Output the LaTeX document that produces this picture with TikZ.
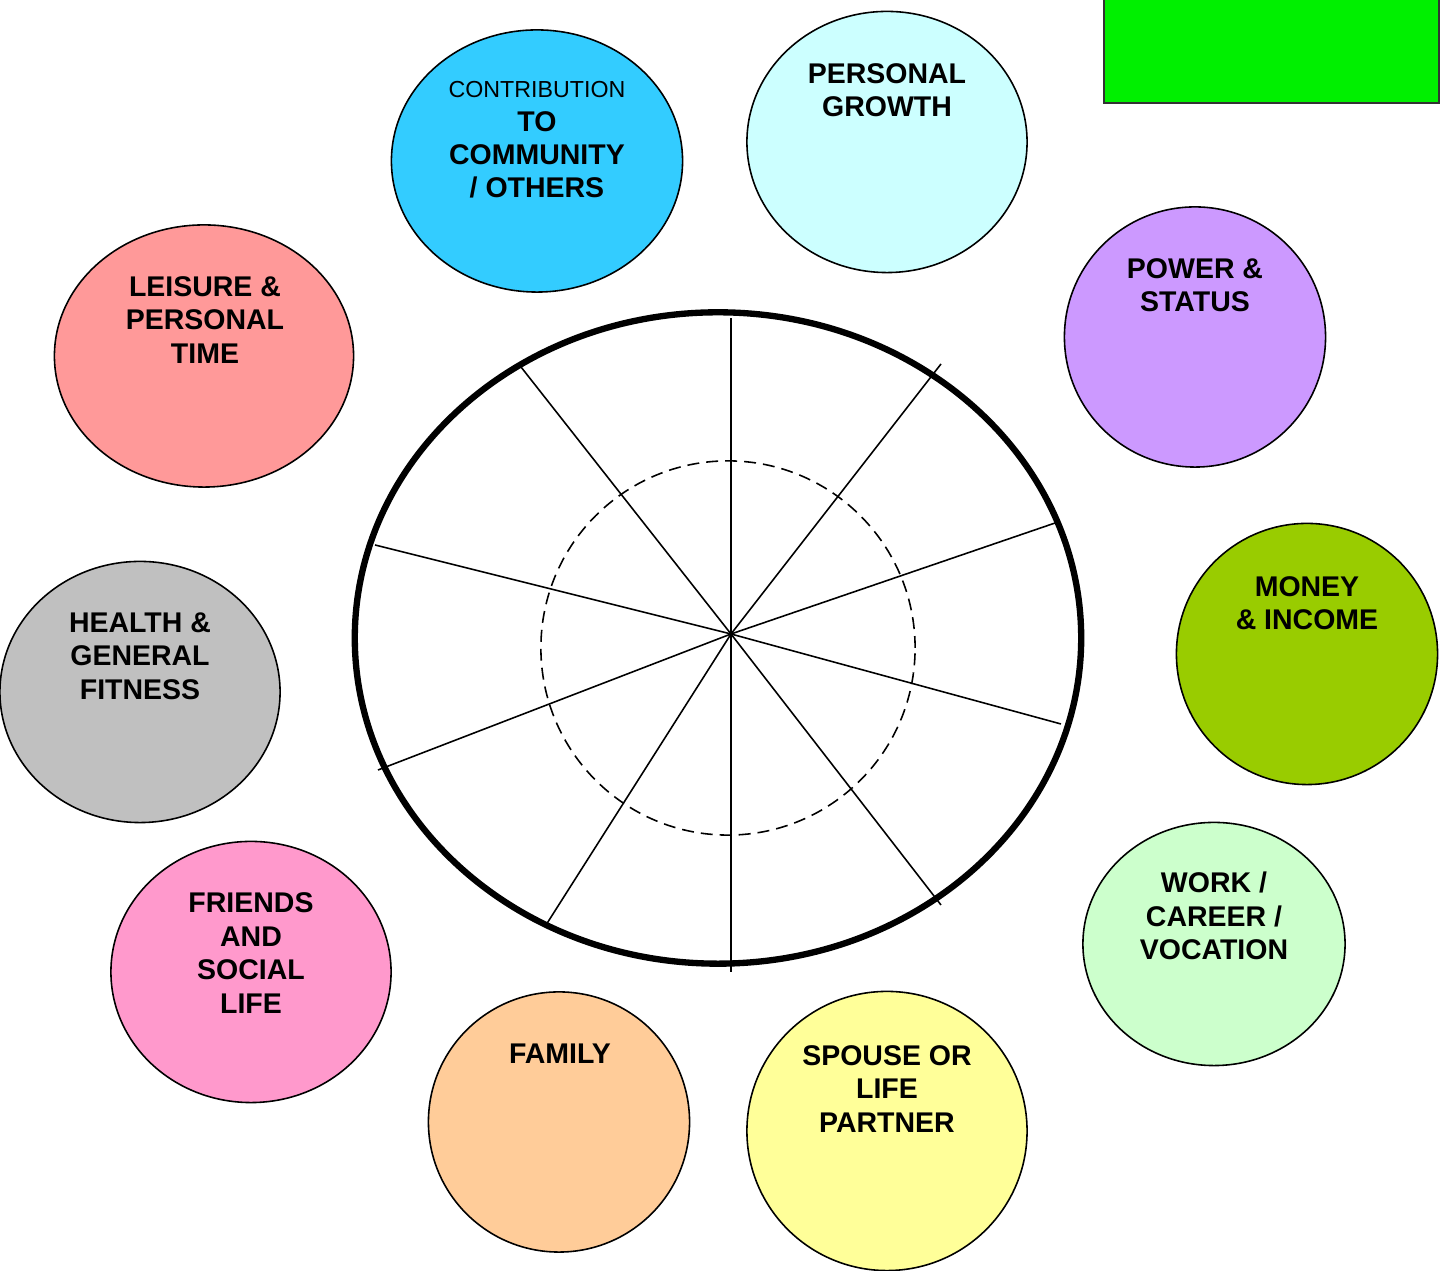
\documentclass[tikz,border=0pt]{standalone}
\usepackage{fontspec}
\setmainfont{Liberation Sans}
\usetikzlibrary{shapes.geometric}

\definecolor{contrib}{HTML}{33CCFF}
\definecolor{growth}{HTML}{CCFFFF}
\definecolor{power}{HTML}{CC99FF}
\definecolor{money}{HTML}{99CC00}
\definecolor{work}{HTML}{CCFFCC}
\definecolor{spouse}{HTML}{FFFF99}
\definecolor{family}{HTML}{FFCC99}
\definecolor{friends}{HTML}{FF99CC}
\definecolor{health}{HTML}{C0C0C0}
\definecolor{leisure}{HTML}{FF9999}
\definecolor{boxgreen}{HTML}{00F000}

\begin{document}
\begin{tikzpicture}[x=0.01cm,y=-0.01cm]
\useasboundingbox (0,0) rectangle (1444,1271);

\node[draw=black!80, line width=0.6pt, fill=boxgreen, anchor=south west,
      minimum width=3.35cm, minimum height=1.14cm, inner sep=0] (box) at (1103,104) {};

% the wheel
\node[ellipse, draw, line width=1.8pt, inner sep=0,
      minimum width=7.26cm, minimum height=6.51cm] (wheel) at (718,638) {};
\coordinate (hub) at (731,634);
\foreach \x/\y in {731/318, 941/364, 1058/522, 1061/724, 941/905,
                   731/972, 546/925, 378/770, 375/545, 521/367}
    \draw[line width=0.45pt] (hub) -- (\x,\y);
\node[circle, draw, line width=0.45pt, dash pattern=on 3.4pt off 2pt,
      minimum size=3.74cm, inner sep=0] (inner) at (728,648) {};

% the areas
\begin{scope}[every node/.style={ellipse,draw,line width=0.45pt,inner sep=0}]
    \node[fill=contrib, minimum width=2.91cm, minimum height=2.62cm] (C) at (537,161) {};
    \node[fill=growth,  minimum width=2.80cm, minimum height=2.61cm] (G) at (887,142) {};
    \node[fill=power,   minimum width=2.61cm, minimum height=2.60cm] (P) at (1195,337) {};
    \node[fill=money,   minimum width=2.61cm, minimum height=2.61cm] (M) at (1307,654) {};
    \node[fill=work,    minimum width=2.62cm, minimum height=2.43cm] (W) at (1214,944) {};
    \node[fill=spouse,  minimum width=2.80cm, minimum height=2.79cm] (S) at (887,1131) {};
    \node[fill=family,  minimum width=2.61cm, minimum height=2.60cm] (F) at (559,1122) {};
    \node[fill=friends, minimum width=2.80cm, minimum height=2.61cm] (R) at (251,972) {};
    \node[fill=health,  minimum width=2.80cm, minimum height=2.61cm] (H) at (140,692) {};
    \node[fill=leisure, minimum width=2.99cm, minimum height=2.62cm] (L) at (204,356) {};
\end{scope}

\begin{scope}[every node/.style={align=center,inner sep=0,
              font=\fontsize{8.1}{9.5}\selectfont\bfseries}]
    \node (Ct) at (537,140) {{\mdseries\fontsize{6.6}{8.2}\selectfont CONTRIBUTION}\\TO\\COMMUNITY\\/ OTHERS};
    \node (Gt) at (887,90) {PERSONAL\\GROWTH};
    \node (Pt) at (1195,285) {POWER \&\\STATUS};
    \node (Mt) at (1307,603) {MONEY\\\& INCOME};
    \node (Wt) at (1214,916) {WORK /\\CAREER /\\VOCATION};
    \node (St) at (887,1089) {SPOUSE OR\\LIFE\\PARTNER};
    \node (Ft) at (560,1054) {FAMILY};
    \node (Rt) at (251,953) {FRIENDS\\AND\\SOCIAL\\LIFE};
    \node (Ht) at (140,656) {HEALTH \&\\GENERAL\\FITNESS};
    \node (Lt) at (205,320) {LEISURE \&\\PERSONAL\\TIME};
\end{scope}
\end{tikzpicture}
\end{document}
